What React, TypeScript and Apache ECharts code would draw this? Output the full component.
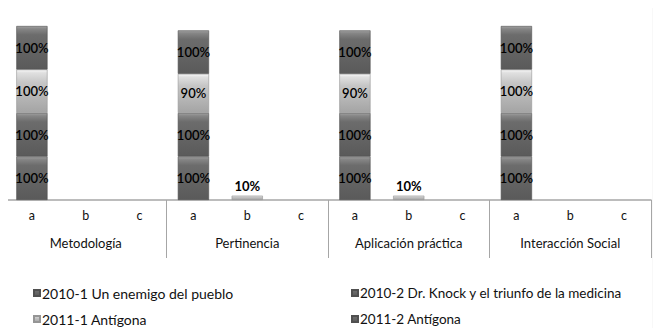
import React, { useEffect, useRef } from "react";
import * as echarts from "echarts";

const subCategories = ["a", "b", "c", "a", "b", "c", "a", "b", "c", "a", "b", "c"];
const groups = ["Metodología", "Pertinencia", "Aplicación práctica", "Interacción Social"];
const seriesNames = [
  "2010-1 Un enemigo del pueblo",
  "2010-2 Dr. Knock y el triunfo de la medicina",
  "2011-1 Antígona",
  "2011-2 Antígona",
];
const s2010_1 = [100, 0, 0, 100, 0, 0, 100, 0, 0, 100, 0, 0];
const s2010_2 = [100, 0, 0, 100, 0, 0, 100, 0, 0, 100, 0, 0];
const s2011_1 = [100, 0, 0, 90, 10, 0, 90, 10, 0, 100, 0, 0];
const s2011_2 = [100, 0, 0, 100, 0, 0, 100, 0, 0, 100, 0, 0];

const FONT = "Lato, 'Open Sans', sans-serif";

const darkGrad = () =>
  new echarts.graphic.LinearGradient(0, 0, 0, 1, [
    { offset: 0, color: "#a0a0a0" },
    { offset: 0.06, color: "#868686" },
    { offset: 0.2, color: "#6c6c6c" },
    { offset: 1, color: "#5a5a5a" },
  ]);
const lightGrad = () =>
  new echarts.graphic.LinearGradient(0, 0, 0, 1, [
    { offset: 0, color: "#fafafa" },
    { offset: 0.07, color: "#e0e0e0" },
    { offset: 0.3, color: "#c6c6c6" },
    { offset: 1, color: "#a4a4a4" },
  ]);

export default function App() {
  const ref = useRef<HTMLDivElement>(null);
  useEffect(() => {
    if (!ref.current) return;
    const chart = echarts.init(ref.current, null, { renderer: "svg" });
    const makeData = (vals: number[]) =>
      vals.map((v) =>
        v === 0
          ? "-"
          : v < 50
          ? {
              value: v,
              label: { show: true, position: "top", fontWeight: "bold", distance: 3 },
            }
          : { value: v }
      );
    const series = [s2010_1, s2010_2, s2011_1, s2011_2].map((vals, i) => ({
      name: seriesNames[i],
      type: "bar",
      stack: "total",
      xAxisIndex: 0,
      barWidth: "58%",
      data: makeData(vals),
      itemStyle: {
        color: i === 2 ? lightGrad() : darkGrad(),
        borderColor: i === 2 ? "#959595" : "#505050",
        borderWidth: 0.6,
      },
      label: {
        show: true,
        position: "inside",
        formatter: "{c}%",
        color: "#000",
        fontFamily: FONT,
        fontSize: 13,
        fontWeight: 600,
      },
    }));
    chart.setOption({
      animation: false,
      backgroundColor: "#fff",
      grid: { left: 5, right: 10, top: 26, bottom: 136 },
      xAxis: [
        {
          type: "category",
          data: subCategories,
          position: "bottom",
          axisLine: { show: true, lineStyle: { color: "#a6a6a6", width: 1.5 } },
          axisTick: { show: false },
          axisLabel: { color: "#111", fontFamily: FONT, fontSize: 12.5, margin: 9 },
        },
        {
          type: "category",
          data: groups,
          position: "bottom",
          axisLine: { show: false },
          axisTick: { show: true, length: 58, lineStyle: { color: "#a6a6a6", width: 1 } },
          axisLabel: { color: "#111", fontFamily: FONT, fontSize: 13, margin: 36 },
        },
      ],
      yAxis: {
        type: "value",
        min: 0,
        max: 400,
        show: false,
      },
      legend: [
        {
          data: [seriesNames[0], seriesNames[2]],
          orient: "vertical",
          left: 28,
          top: 281,
          itemWidth: 6,
          itemHeight: 6,
          itemGap: 12,
          icon: "rect",
          textStyle: { color: "#111", fontFamily: FONT, fontSize: 14, padding: [0, 0, 0, -3] },
        },
        {
          data: [seriesNames[1], seriesNames[3]],
          orient: "vertical",
          left: 346,
          top: 281,
          itemWidth: 6,
          itemHeight: 6,
          itemGap: 12,
          icon: "rect",
          textStyle: { color: "#111", fontFamily: FONT, fontSize: 13.5, padding: [0, 0, 0, -3] },
        },
      ],
      graphic: [
        {
          type: "line",
          shape: { x1: 4, y1: 5, x2: 654, y2: 5 },
          style: { stroke: "#a6a6a6", lineWidth: 2 },
        },
        {
          type: "line",
          shape: { x1: 4.5, y1: 5, x2: 4.5, y2: 326 },
          style: { stroke: "#a6a6a6", lineWidth: 1 },
        },
        {
          type: "line",
          shape: { x1: 653.5, y1: 5, x2: 653.5, y2: 330 },
          style: { stroke: "#f2f2f2", lineWidth: 2 },
        },
      ],
      series,
    });
    return () => chart.dispose();
  }, []);
  return <div ref={ref} style={{ width: 661, height: 336, margin: -8 }} />;
}
